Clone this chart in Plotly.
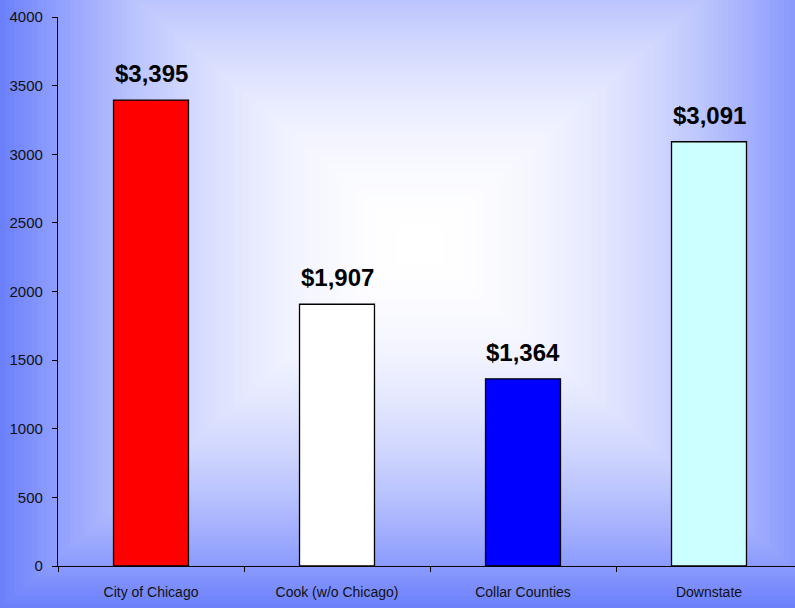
import plotly.graph_objects as go

# Chart data
regions = ["City of Chicago", "Cook (w/o Chicago)", "Collar Counties", "Downstate"]
amounts = [3395, 1907, 1364, 3091]
bar_colors = ["#ff0000", "#ffffff", "#0000ff", "#ccffff"]
y_ticks = [0, 500, 1000, 1500, 2000, 2500, 3000, 3500, 4000]

# Canvas / plot-area geometry (pixels)
W, H = 795, 608
L, R, T, B = 58, 0, 17, 42
plot_w = W - L - R
plot_h = H - T - B
cat_px = 186.0  # width of one category slot

# Rectangular "from centre" background gradient
cx, cy = 420.0, 245.0
ax_x, ax_y = 420.0, 363.0
inner = (255, 255, 255)
outer = (108, 128, 252)


def mix(t):
    t = max(0.0, min(1.0, t))
    c = [round(a + (b - a) * t) for a, b in zip(inner, outer)]
    return "rgb({},{},{})".format(*c)


def px_to_paper_x(px):
    return (px - L) / plot_w


def px_to_paper_y(py):
    return (H - B - py) / plot_h


shapes = []
N = 90
for k in range(N, 0, -1):
    d = k / N
    hx, hy = d * ax_x, d * ax_y
    shapes.append(dict(
        type="rect", xref="paper", yref="paper", layer="below",
        x0=px_to_paper_x(cx - hx), x1=px_to_paper_x(cx + hx),
        y0=px_to_paper_y(cy + hy), y1=px_to_paper_y(cy - hy),
        fillcolor=mix(d ** 2.0), line=dict(width=0),
    ))

fig = go.Figure()
fig.add_trace(go.Bar(
    x=regions, y=amounts,
    marker=dict(color=bar_colors, line=dict(color="#000000", width=1.3)),
    width=0.403,
    hoverinfo="skip",
))

annotations = []
for r, v in zip(regions, amounts):
    annotations.append(dict(
        x=r, y=v, xref="x", yref="y", text="${:,}".format(v),
        showarrow=False, yanchor="bottom", yshift=11,
        font=dict(family="Liberation Sans, Arial, sans-serif", size=24,
                  color="#000000", weight="bold"),
    ))

fig.update_layout(
    width=W, height=H,
    margin=dict(l=L, r=R, t=T, b=B, pad=0),
    paper_bgcolor=mix(1.0),
    plot_bgcolor="rgba(0,0,0,0)",
    showlegend=False,
    shapes=shapes,
    annotations=annotations,
    font=dict(family="Liberation Sans, Arial, sans-serif", size=14, color="#000000"),
    bargap=0.597,
)

fig.update_xaxes(
    type="category",
    range=[-0.5, -0.5 + plot_w / cat_px],
    showline=True, linecolor="#000000", linewidth=1.2,
    ticks="outside", ticklen=5, tickcolor="#000000", tickwidth=1,
    tickson="boundaries",
    ticklabelstandoff=13,
    showgrid=False, zeroline=False,
    tickfont=dict(size=14, color="#111111"),
    fixedrange=True,
)
fig.update_yaxes(
    range=[0, 4000],
    tickvals=y_ticks,
    ticktext=[str(t) for t in y_ticks],
    showline=True, linecolor="#000000", linewidth=1.2,
    ticks="outside", ticklen=5, tickcolor="#000000", tickwidth=1,
    ticklabelstandoff=6,
    showgrid=False, zeroline=False,
    tickfont=dict(size=15, color="#111111"),
    fixedrange=True,
)

fig.write_html("out.html", config={"displayModeBar": False})
